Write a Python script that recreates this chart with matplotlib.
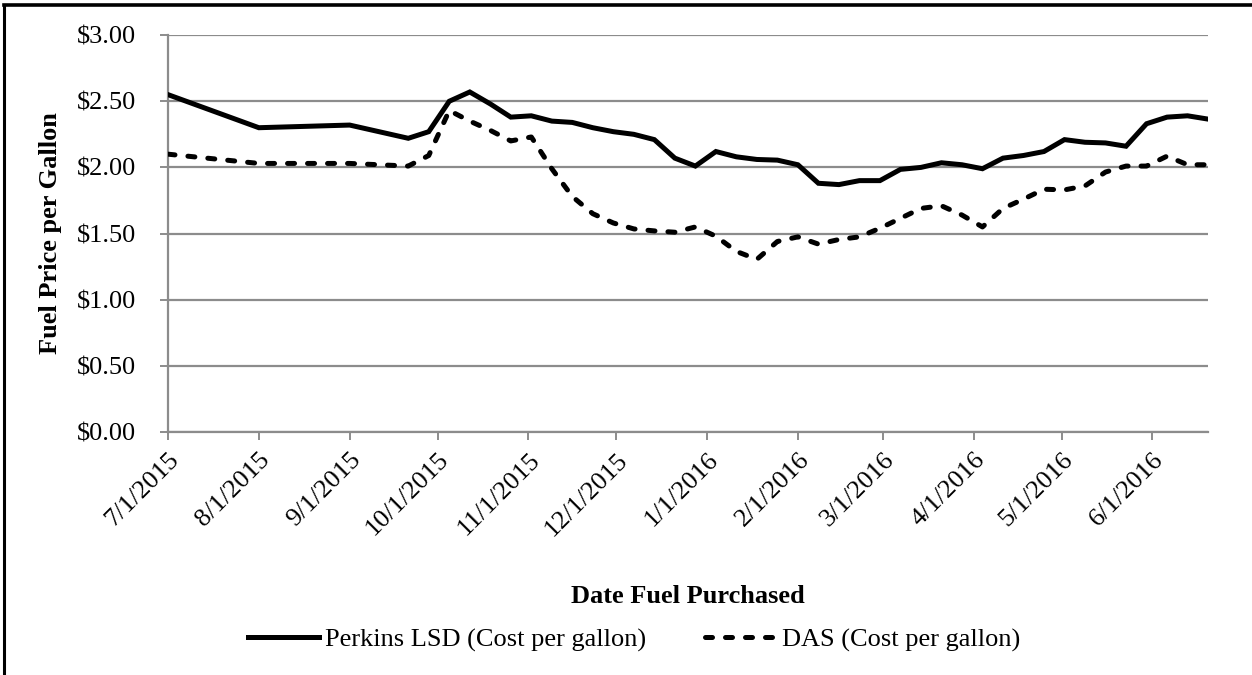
import matplotlib
matplotlib.use("Agg")
import matplotlib.pyplot as plt
from matplotlib.ticker import FuncFormatter
import pandas as pd

# purchase dates (monthly at first, then weekly Mondays)
dates = ["2015-07-01", "2015-08-01", "2015-09-01", "2015-09-21", "2015-09-28",
         "2015-10-05", "2015-10-12", "2015-10-19", "2015-10-26", "2015-11-02",
         "2015-11-09", "2015-11-16", "2015-11-23", "2015-11-30", "2015-12-07",
         "2015-12-14", "2015-12-21", "2015-12-28", "2016-01-04", "2016-01-11",
         "2016-01-18", "2016-01-25", "2016-02-01", "2016-02-08", "2016-02-15",
         "2016-02-22", "2016-02-29", "2016-03-07", "2016-03-14", "2016-03-21",
         "2016-03-28", "2016-04-04", "2016-04-11", "2016-04-18", "2016-04-25",
         "2016-05-02", "2016-05-09", "2016-05-16", "2016-05-23", "2016-05-30",
         "2016-06-06", "2016-06-13", "2016-06-20"]

perkins = [2.55, 2.30, 2.32, 2.22, 2.27,
           2.50, 2.57, 2.48, 2.38, 2.39,
           2.35, 2.34, 2.30, 2.27, 2.25,
           2.21, 2.07, 2.01, 2.12, 2.08,
           2.06, 2.055, 2.02, 1.88, 1.87,
           1.90, 1.90, 1.985, 2.00, 2.035,
           2.02, 1.99, 2.07, 2.09, 2.12,
           2.21, 2.19, 2.185, 2.16, 2.33,
           2.38, 2.39, 2.365]

das = [2.10, 2.03, 2.03, 2.01, 2.09,
       2.43, 2.35, 2.28, 2.20, 2.23,
       1.99, 1.78, 1.65, 1.58, 1.535,
       1.52, 1.51, 1.55, 1.48, 1.365,
       1.305, 1.44, 1.475, 1.42, 1.455,
       1.475, 1.54, 1.615, 1.69, 1.71,
       1.64, 1.55, 1.69, 1.76, 1.835,
       1.83, 1.86, 1.965, 2.01, 2.01,
       2.085, 2.02, 2.02]

tick_dates = ["2015-07-01", "2015-08-01", "2015-09-01", "2015-10-01", "2015-11-01",
              "2015-12-01", "2016-01-01", "2016-02-01", "2016-03-01", "2016-04-01",
              "2016-05-01", "2016-06-01"]

x = pd.to_datetime(dates)
ticks = pd.to_datetime(tick_dates)

plt.rcParams['font.family'] = ['Liberation Serif', 'DejaVu Serif']
grey = '#8c8c8c'
fs = 19

fig = plt.figure(figsize=(12.52, 6.75), dpi=100)
ax = fig.add_axes([0.1342, 0.36, 0.8307, 0.588])

ax.plot(x, perkins, color='black', lw=3.6, solid_joinstyle='miter',
        label='Perkins LSD (Cost per gallon)', zorder=3)
ax.plot(x, das, color='black', lw=3.6, linestyle=(0, (1.4, 2.6)),
        dash_capstyle='round', label='DAS (Cost per gallon)', zorder=3)

ax.set_ylim(0, 3.0)
ax.set_yticks([0, 0.5, 1.0, 1.5, 2.0, 2.5, 3.0])
ax.yaxis.set_major_formatter(FuncFormatter(lambda v, p: '${:.2f}'.format(v)))
ax.set_xlim(x[0], x[-1])
ax.set_xticks(ticks)
ax.set_xticklabels([d.strftime('%-m/%-d/%Y') for d in ticks], rotation=45,
                   ha='right', rotation_mode='anchor')

ax.grid(axis='y', color=grey, lw=1.6)
ax.set_axisbelow(True)
for s in ['top', 'right']:
    ax.spines[s].set_visible(False)
for s in ['left', 'bottom']:
    ax.spines[s].set_color(grey)
    ax.spines[s].set_linewidth(1.6)
ax.tick_params(axis='both', colors=grey, labelcolor='black', labelsize=fs,
               length=6, width=1.4, direction='out')
ax.tick_params(axis='y', pad=17)
ax.tick_params(axis='x', pad=6)

ax.set_ylabel('Fuel Price per Gallon', fontsize=fs, fontweight='bold')
ax.set_xlabel('Date Fuel Purchased', fontsize=fs, fontweight='bold')
ax.xaxis.label.set_va('center')
ax.yaxis.label.set_va('center')
ax.xaxis.set_label_coords(0.5, -0.415)
ax.yaxis.set_label_coords(-0.113, 0.5)

fig.legend(loc='center left', bbox_to_anchor=(248 / 1252, 1 - 640 / 675), ncol=2,
           frameon=False, fontsize=fs, handlelength=2.7, handletextpad=0.23,
           columnspacing=2.2, borderpad=0, borderaxespad=0)

# page frame lines visible at the top and left
fig.add_artist(plt.Line2D([0.003, 0.003], [0, 0.992], color='black', lw=2.2,
                          transform=fig.transFigure))
fig.add_artist(plt.Line2D([0.003, 1.0], [0.992, 0.992], color='black', lw=2.6,
                          transform=fig.transFigure))

fig.savefig('out.png', dpi=100)
